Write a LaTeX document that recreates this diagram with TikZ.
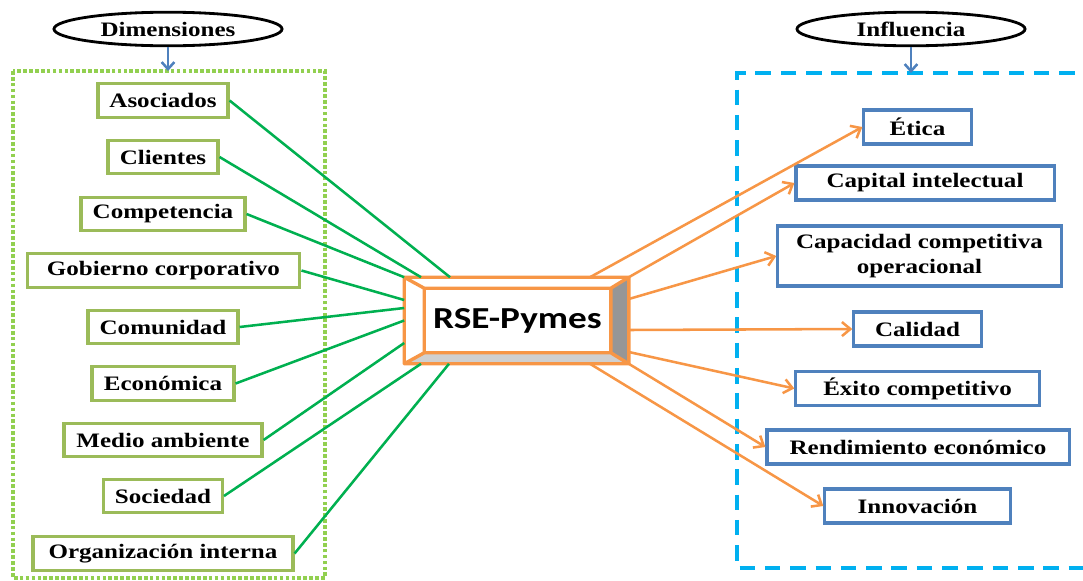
\documentclass[tikz,border=0pt]{standalone}
\usepackage{fontspec}
\setmainfont{Liberation Serif}[FakeStretch=1.22]
\newfontfamily\rsefont{Carlito}[FakeStretch=1.22]
\usetikzlibrary{shapes.geometric,arrows.meta,calc}
\definecolor{boxgreen}{HTML}{9BBB59}
\definecolor{linegreen}{HTML}{00B050}
\definecolor{dotgreen}{HTML}{92D050}
\definecolor{boxblue}{HTML}{4F81BD}
\definecolor{dashblue}{HTML}{00B0F0}
\definecolor{rseorange}{HTML}{F79646}
\definecolor{facedark}{HTML}{969696}
\definecolor{facelight}{HTML}{D0D0D0}
\tikzset{
	lbl/.style={font=\bfseries\fontsize{14.6}{18}\selectfont, inner sep=1pt},
	dimbox/.style={lbl, draw=boxgreen, line width=2.2pt, fill=white, minimum height=0.83cm},
	inflbox/.style={lbl, draw=boxblue, line width=2.2pt, fill=white, minimum height=0.85cm, align=center},
	header/.style={lbl, ellipse, draw=black, line width=2pt, minimum width=5.7cm, minimum height=0.84cm},
	downarrow/.style={draw=boxblue, line width=1.8pt, -{Straight Barb[length=5pt,width=9pt]}},
	dimline/.style={draw=linegreen, line width=1.8pt},
	inflarrow/.style={draw=rseorange, line width=1.8pt, -{Straight Barb[length=6pt,width=10pt]}},
	rseedge/.style={draw=rseorange, line width=2.4pt, line join=round},
}

\begin{document}
\begin{tikzpicture}[x=0.025cm, y=-0.025cm]
	\useasboundingbox (0,0) rectangle (1083,580);
	\draw[dotgreen, line width=2.6pt, dash pattern=on 2.6pt off 1.6pt] (13,71) rectangle (325,578);
	\draw[dashblue, line width=2.6pt, dash pattern=on 11pt off 7pt] (1100,73) -- (737,73) -- (737,568) -- (1100,568);

	\node[header] (dim) at (168,29) {Dimensiones};
	\node[header] (infl) at (911,29) {Influencia};
	\coordinate (dimtop) at (168,71);
	\coordinate (infltop) at (911,73);
	\draw[downarrow] (dim.south) -- (dimtop);
	\draw[downarrow] (infl.south) -- (infltop);

	\node[dimbox, minimum width=3.25cm] (aso) at (163,100.5) {Asociados};
	\node[dimbox, minimum width=2.75cm] (cli) at (163,157) {Clientes};
	\node[dimbox, minimum width=4.1cm] (comp) at (163,214) {Competencia};
	\node[dimbox, minimum width=6.82cm] (gob) at (163.5,270.5) {Gobierno corporativo};
	\node[dimbox, minimum width=3.75cm] (comu) at (163,327) {Comunidad};
	\node[dimbox, minimum width=3.55cm] (eco) at (163,383.5) {Económica};
	\node[dimbox, minimum width=4.95cm] (medio) at (163,440) {Medio ambiente};
	\node[dimbox, minimum width=2.97cm] (soc) at (163,496) {Sociedad};
	\node[dimbox, minimum width=6.5cm] (org) at (163,553.5) {Organización interna};

	\node[inflbox, minimum width=2.68cm] (etica) at (917.5,127) {Ética};
	\node[inflbox, minimum width=6.45cm] (capital) at (925,183) {Capital intelectual};
	\node[inflbox, minimum width=7.08cm, minimum height=1.5cm] (capac) at (919.5,256) {Capacidad competitiva\\operacional};
	\node[inflbox, minimum width=3.18cm] (calidad) at (917.5,329) {Calidad};
	\node[inflbox, minimum width=6.08cm] (exito) at (917.5,388.5) {Éxito competitivo};
	\node[inflbox, minimum width=7.55cm] (rend) at (918,447) {Rendimiento económico};
	\node[inflbox, minimum width=4.63cm] (innov) at (917.5,506) {Innovación};

	\node[minimum width=5.6cm, minimum height=2.15cm, inner sep=0] (rse) at (516.5,320.5) {};
	\node[minimum width=4.65cm, minimum height=1.6cm, inner sep=0, font=\rsefont\bfseries\fontsize{21.7}{26}\selectfont] (rsein) at (517.5,320.5) {RSE-Pymes};
	\fill[facedark] (rse.north east) -- (rse.south east) -- (rsein.south east) -- (rsein.north east) -- cycle;
	\fill[facelight] (rse.south west) -- (rse.south east) -- (rsein.south east) -- (rsein.south west) -- cycle;
	\draw[rseedge] (rse.north west) rectangle (rse.south east) (rsein.north west) rectangle (rsein.south east)
		(rse.north west) -- (rsein.north west) (rse.north east) -- (rsein.north east)
		(rse.south west) -- (rsein.south west) (rse.south east) -- (rsein.south east);

	\draw[dimline] (aso.east) -- ($(rse.north)+(-66.5,0)$);
	\draw[dimline] (cli.east) -- ($(rse.north)+(-95.5,0)$);
	\draw[dimline] (comp.east) -- (rse.north west);
	\draw[dimline] (gob.east) -- ($(rse.west)+(0,-20.5)$);
	\draw[dimline] (comu.east) -- ($(rse.west)+(0,-12.5)$);
	\draw[dimline] (eco.east) -- (rse.west);
	\draw[dimline] (medio.east) -- ($(rse.west)+(0,22.5)$);
	\draw[dimline] (soc.east) -- ($(rse.south)+(-95.5,0)$);
	\draw[dimline] (org.east) -- ($(rse.south)+(-67.5,0)$);

	\draw[inflarrow] ($(rse.north)+(73.5,0)$) -- (etica.west);
	\draw[inflarrow] (rse.north east) -- (capital.west);
	\draw[inflarrow] ($(rse.east)+(0,-21.5)$) -- (capac.west);
	\draw[inflarrow] ($(rse.east)+(0,9.5)$) -- (calidad.west);
	\draw[inflarrow] ($(rse.east)+(0,31.5)$) -- (exito.west);
	\draw[inflarrow] (rse.south east) -- (rend.west);
	\draw[inflarrow] ($(rse.south)+(73.5,0)$) -- (innov.west);
\end{tikzpicture}
\end{document}
